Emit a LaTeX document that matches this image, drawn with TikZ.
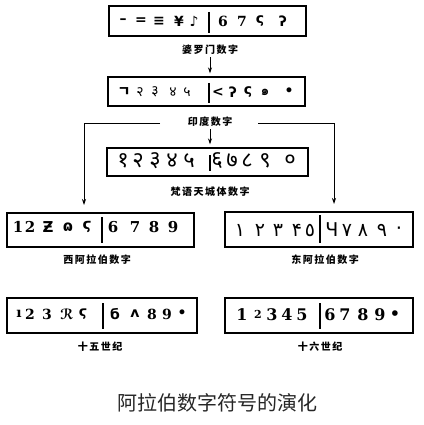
\documentclass[tikz,border=0pt]{standalone}
\usepackage{fontspec}
\usetikzlibrary{arrows.meta}
\newfontfamily\cjk{Noto Sans CJK SC}
\newfontfamily\cjkl[LetterSpace=15]{Noto Sans CJK SC}
\newfontfamily\deva[Script=Devanagari]{Noto Sans}
\newfontfamily\thaif[Script=Thai]{Loma}
\newfontfamily\arabf[Script=Arabic]{DejaVu Sans}
\newfontfamily\dvs{DejaVu Sans}
\newfontfamily\dvser{DejaVu Serif}
\tikzset{
  numbox/.style={draw, line width=1.4pt, inner sep=0pt},
  divline/.style={line width=1.4pt},
  glyph/.style={inner sep=0pt, anchor=center},
  lbl/.style={font=\cjkl\bfseries\fontsize{10}{10}\selectfont, inner sep=1pt},
  arr/.style={line width=0.8pt, -{Stealth[length=6pt,width=4pt]}},
  gA/.style={glyph, font=\dvser\bfseries\fontsize{14}{14}\selectfont},
  gB/.style={glyph, font=\dvser\bfseries\fontsize{14}{14}\selectfont},
  gC/.style={glyph, font=\deva\bfseries\fontsize{22}{22}\selectfont},
  gD/.style={glyph, font=\dvser\bfseries\fontsize{15}{15}\selectfont},
  gE/.style={glyph, font=\arabf\fontsize{19}{19}\selectfont},
  gF/.style={glyph, font=\dvser\bfseries\fontsize{14}{14}\selectfont},
  gG/.style={glyph, font=\dvser\bfseries\fontsize{16}{16}\selectfont},
}
\begin{document}
\begin{tikzpicture}[x=1pt,y=-1pt]
\path[use as bounding box, fill=white] (0,0) rectangle (423,425);

% boxes
\node[numbox, minimum width=197pt, minimum height=30pt] (b1) at (207.5,21) {};
\node[numbox, minimum width=197pt, minimum height=29pt] (b2) at (206.5,91.5) {};
\node[numbox, minimum width=201pt, minimum height=28pt] (b3) at (207.5,162) {};
\node[numbox, minimum width=187pt, minimum height=34pt] (b4) at (100.5,230) {};
\node[numbox, minimum width=188pt, minimum height=35pt] (b5) at (319,229.5) {};
\node[numbox, minimum width=190pt, minimum height=35pt] (b6) at (102,315.5) {};
\node[numbox, minimum width=188pt, minimum height=35pt] (b7) at (319,315.5) {};

% dividers
\draw[divline] (209,12) -- (209,33);
\draw[divline] (209,83) -- (209,103);
\draw[divline] (210,155) -- (210,171);
\draw[divline] (102,217) -- (102,243);
\draw[divline] (320,215) -- (320,243);
\draw[divline] (103,303) -- (103,329);
\draw[divline] (320,303) -- (320,329);

% glyphs
\foreach \x/\g [count=\i] in {123/{\dvs –}, 141/{\dvs =}, 159/{\dvs ≡}, 179/{\dvs ¥}, 194/{\dvs ♪}, 223/6, 242/7, 260/{\dvs ς}, 283/{\dvs ʔ}}
  \node[gA] (g1-\i) at (\x,21) {\g};
\foreach \x/\g [count=\i] in {124/{\cjk ㄱ}, 140/{\deva २}, 155/{\deva ३}, 173/{\deva ४}, 187/{\deva ५}, 218/{\dvs <}, 233/{\dvs ʔ}, 248/{\dvs ς}, 265/{\thaif ๑}, 289/{\dvs •}}
  \node[gB] (g2-\i) at (\x,92) {\g};
\foreach \x/\g [count=\i] in {123/१, 138/२, 155/३, 172/४, 189/५, 217/६, 232/७, 247/८, 265/९, 290/०}
  \node[gC] (g3-\i) at (\x,161) {\g};
\foreach \x/\g [count=\i] in {18/1, 30/2, 48/{\dvs Ƶ}, 68/{\dvs ɷ}, 87/{\dvs ϛ}, 113/6, 135/7, 154/8, 173/9}
  \node[gD] (g4-\i) at (\x,227) {\g};
\foreach \x/\g [count=\i] in {240/۱, 260/۲, 278/۳, 297/۴, 310/٥, 332/{\dvs Ч}, 347/٧, 363/٨, 382/٩, 399/٠}
  \node[gE] (g5-\i) at (\x,230) {\g};
\foreach \x/\g [count=\i] in {19/ı, 30/2, 47/3, 67/{\dvs ℛ}, 83/{\dvs ϛ}, 115/{\dvs б}, 135/{\dvs ʌ}, 152/8, 167/9, 182/{\dvs •}}
  \node[gF] (g6-\i) at (\x,314) {\g};
\foreach \x/\g [count=\i] in {242/1, 258/{\raisebox{2pt}{\fontsize{11}{11}\selectfont 2}}, 272/3, 287/4, 302/5, 330/6, 345/7, 363/8, 380/9, 395/{\dvs •}}
  \node[gG] (g7-\i) at (\x,315) {\g};

% labels
\node[lbl] (l1) at (210,50) {婆罗门数字};
\node[lbl] (l2) at (210,122) {印度数字};
\node[lbl] (l3) at (210,192) {梵语天城体数字};
\node[lbl] (l4) at (97,260) {西阿拉伯数字};
\node[lbl] (l5) at (325,260) {东阿拉伯数字};
\node[lbl] (l6) at (100,347) {十五世纪};
\node[lbl] (l7) at (320,347) {十六世纪};

% connectors
\draw[arr, shorten <=1pt, shorten >=3pt] (l1.south) -- (l1.south |- b2.north);
\draw[arr, shorten <=1pt, shorten >=3pt] (l2.south) -- (l2.south |- b3.north);
\coordinate (lsL) at (160,123);
\coordinate (ltL) at (84,205);
\coordinate (lsR) at (258,123);
\coordinate (ltR) at (334,204);
\draw[arr] (lsL) -| (ltL);
\draw[arr] (lsR) -| (ltR);

% title
\node[font=\cjk\fontsize{20}{20}\selectfont, text=black!85, inner sep=0pt] (title) at (217,403) {阿拉伯数字符号的演化};
\end{tikzpicture}
\end{document}
